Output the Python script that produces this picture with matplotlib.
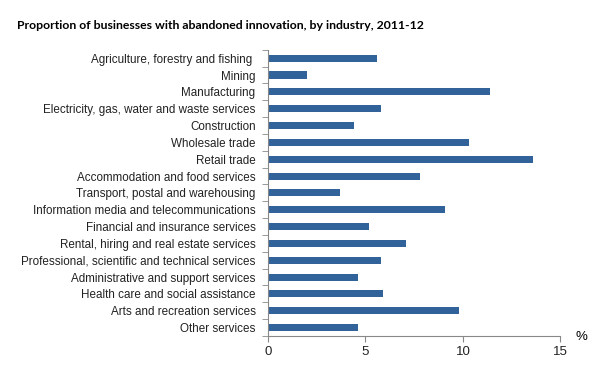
import numpy as np
import matplotlib
matplotlib.use("Agg")
import matplotlib.pyplot as plt

industries = [
    "Agriculture, forestry and fishing ",
    "Mining",
    "Manufacturing",
    "Electricity, gas, water and waste services",
    "Construction",
    "Wholesale trade",
    "Retail trade",
    "Accommodation and food services",
    "Transport, postal and warehousing",
    "Information media and telecommunications",
    "Financial and insurance services",
    "Rental, hiring and real estate services",
    "Professional, scientific and technical services",
    "Administrative and support services",
    "Health care and social assistance",
    "Arts and recreation services",
    "Other services",
]
values = [5.6, 2.0, 11.4, 5.8, 4.4, 10.3, 13.6, 7.8, 3.7, 9.1,
          5.2, 7.1, 5.8, 4.6, 5.9, 9.8, 4.6]
xticks = [0, 5, 10, 15]

plt.rcParams['font.family'] = ['Liberation Sans', 'DejaVu Sans']

fig = plt.figure(figsize=(5.93, 3.66), dpi=100)
ax = fig.add_axes([0.452, 0.082, 0.493, 0.782])

y = np.arange(len(industries))
ax.barh(y, values, height=0.42, color="#31639A")
ax.set_ylim(len(industries) - 0.5, -0.5)
ax.set_xlim(0, 15)

ax.set_yticks(y)
ax.set_yticklabels(industries, fontsize=8.4, color="#222222")
ax.tick_params(axis="y", length=0, pad=9)
ax.set_yticks(np.arange(-0.5, len(industries), 1), minor=True)
ax.tick_params(axis="y", which="minor", length=4, color="#888888")

ax.set_xticks(xticks)
ax.set_xticklabels([str(t) for t in xticks], fontsize=9.5, color="#222222")
ax.tick_params(axis="x", length=4, color="#888888", pad=3)

for s in ["top", "right"]:
    ax.spines[s].set_visible(False)
for s in ["left", "bottom"]:
    ax.spines[s].set_color("#888888")

# title in a narrow bold face to get close to the original width
fig.text(0.029, 0.93, "Proportion of businesses with abandoned innovation, by industry, 2011-12",
         fontsize=8.8, fontweight="bold", family=["Lato", "DejaVu Sans"], va="center")
fig.text(0.981, 0.08, "%", fontsize=9.5, ha="center", va="center")

fig.savefig("out.png", dpi=100)
